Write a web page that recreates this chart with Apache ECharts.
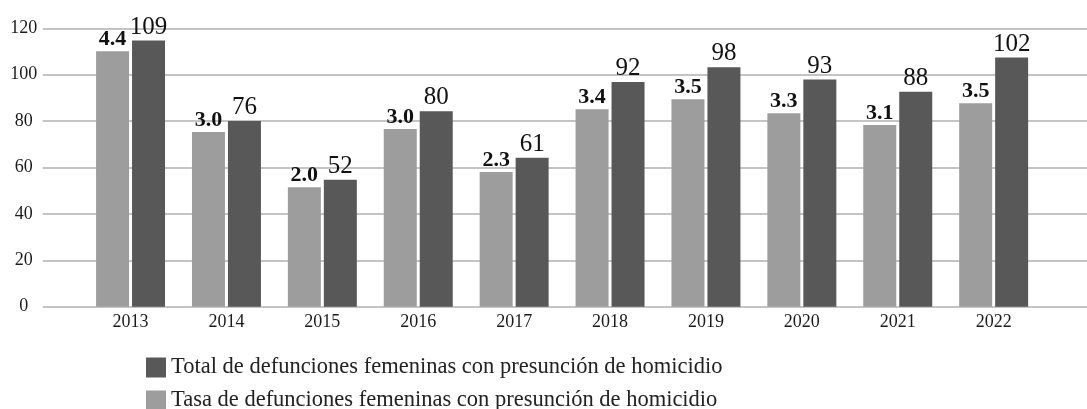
<!DOCTYPE html>
<html>
<head>
<meta charset="utf-8">
<script src="https://cdn.jsdelivr.net/npm/echarts@6/dist/echarts.min.js"></script>
<style>
html,body{margin:0;padding:0;background:#fff;}
#chart{width:1087px;height:409px;}
</style>
</head>
<body>
<div id="chart"></div>
<script>
const categories = ['2013','2014','2015','2016','2017','2018','2019','2020','2021','2022'];
const tasa = [4.36, 2.98, 2.04, 3.03, 2.30, 3.37, 3.54, 3.30, 3.10, 3.47];
const total = [109, 76, 52, 80, 61, 92, 98, 93, 88, 102];
const yTicks = [0, 20, 40, 60, 80, 100, 120];
const nameTotal = 'Total de defunciones femeninas con presunción de homicidio';
const nameTasa = 'Tasa de defunciones femeninas con presunción de homicidio';

const SERIF = '"Liberation Serif", "Times New Roman", serif';
const chart = echarts.init(document.getElementById('chart'), null, {renderer: 'canvas'});
const gTop = 28.3, gBottom = 409 - 306.7;
const legendBase = {
  orient: 'vertical', left: 146, padding: 0,
  itemWidth: 20, itemHeight: 20, itemGap: 5, icon: 'rect',
  textStyle: {fontFamily: SERIF, fontSize: 22.5, color: '#222'}
};
chart.setOption({
  animation: false,
  backgroundColor: '#ffffff',
  legend: [
    Object.assign({}, legendBase, {top: 356, data: [nameTotal]}),
    Object.assign({}, legendBase, {top: 389, data: [nameTasa]})
  ],
  grid: [
    {left: 42.7, right: 0, top: gTop, bottom: gBottom},
    {left: 82.6, right: 45.4, top: gTop, bottom: gBottom}
  ],
  xAxis: [
    {gridIndex: 0, type: 'value', min: 0, max: 1, show: false},
    {gridIndex: 1, type: 'category', data: categories,
     axisLine: {show: false}, axisTick: {show: false},
     axisLabel: {fontFamily: SERIF, fontSize: 18, color: '#1a1a1a', margin: 7}}
  ],
  yAxis: [
    {gridIndex: 0, type: 'value', min: yTicks[0], max: yTicks[yTicks.length - 1], interval: 20,
     axisLine: {show: false}, axisTick: {show: false},
     axisLabel: {fontFamily: SERIF, fontSize: 18, color: '#1a1a1a', align: 'center', margin: 19},
     splitLine: {show: true, lineStyle: {color: '#b0b0b0', width: 1.5}}},
    {gridIndex: 1, type: 'value', min: 0, max: 4.75, show: false, splitLine: {show: false}},
    {gridIndex: 1, type: 'value', min: 0, max: 114, show: false, splitLine: {show: false}}
  ],
  series: [
    {name: nameTasa, type: 'bar', xAxisIndex: 1, yAxisIndex: 1, data: tasa,
     barWidth: 33, barGap: '9%',
     itemStyle: {color: '#9d9d9d'},
     label: {show: true, position: 'top', distance: 1,
       formatter: p => p.value.toFixed(1),
       fontFamily: SERIF, fontSize: 22, fontWeight: 'bold', color: '#111'}},
    {name: nameTotal, type: 'bar', xAxisIndex: 1, yAxisIndex: 2, data: total,
     barWidth: 33, barGap: '9%',
     itemStyle: {color: '#585858'},
     label: {show: true, position: 'top', distance: 1,
       fontFamily: SERIF, fontSize: 25, color: '#111'}}
  ]
});
</script>
</body>
</html>
